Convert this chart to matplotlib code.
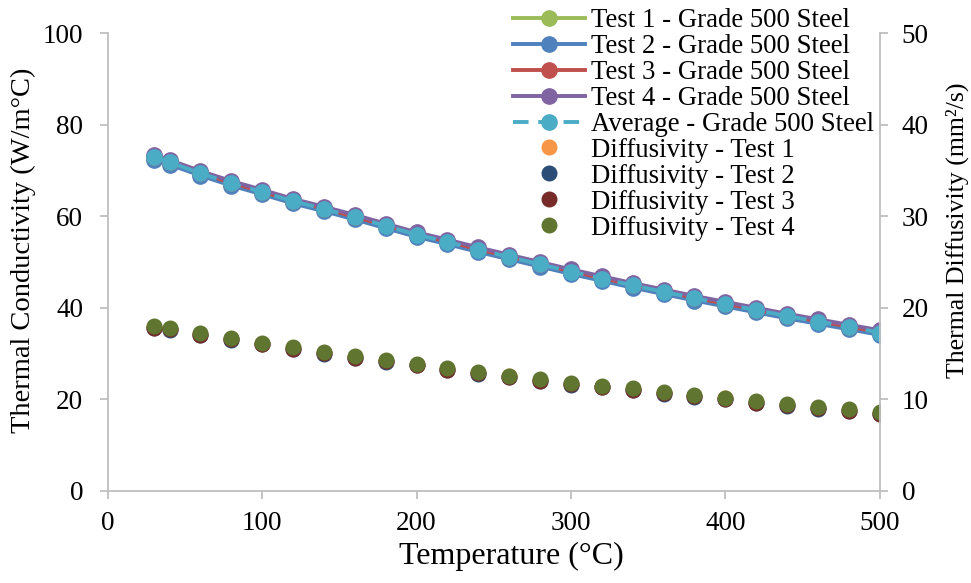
import matplotlib
matplotlib.use("Agg")
import matplotlib.pyplot as plt

plt.rcParams['font.family'] = ['Liberation Serif', 'DejaVu Serif']

# temperatures (°C)
temp = [30, 40, 60, 80, 100, 120, 140, 160, 180, 200, 220, 240, 260, 280,
        300, 320, 340, 360, 380, 400, 420, 440, 460, 480, 500]

# thermal conductivity (W/m°C)
avg_k = [72.9, 71.8, 69.4, 67.2, 65.3, 63.3, 61.6, 59.8, 57.9, 56.0, 54.4,
         52.7, 51.1, 49.5, 47.9, 46.4, 44.9, 43.5, 42.1, 40.8, 39.5, 38.2,
         37.0, 35.8, 34.6]
test1_k = [72.8, 71.7, 69.3, 67.1, 65.2, 63.2, 61.5, 59.7, 57.8, 55.9, 54.3,
           52.6, 51.0, 49.4, 47.8, 46.3, 44.8, 43.4, 42.0, 40.7, 39.4, 38.1,
           36.9, 35.7, 34.5]
test2_k = [72.4, 71.3, 68.9, 66.7, 64.8, 62.8, 61.1, 59.3, 57.4, 55.5, 53.9,
           52.2, 50.6, 49.0, 47.4, 45.9, 44.4, 43.0, 41.6, 40.3, 39.0, 37.7,
           36.5, 35.3, 34.1]
test3_k = [73.0, 71.9, 69.5, 67.3, 65.4, 63.4, 61.7, 59.9, 58.0, 56.1, 54.5,
           52.8, 51.2, 49.6, 48.0, 46.5, 45.0, 43.6, 42.2, 40.9, 39.6, 38.3,
           37.1, 35.9, 34.7]
test4_k = [73.4, 72.3, 69.9, 67.7, 65.8, 63.8, 62.1, 60.3, 58.4, 56.5, 54.9,
           53.2, 51.6, 50.0, 48.4, 46.9, 45.4, 44.0, 42.6, 41.3, 40.0, 38.7,
           37.5, 36.3, 35.1]

# thermal diffusivity (mm²/s)
diff4 = [18.0, 17.8, 17.2, 16.7, 16.2, 15.7, 15.2, 14.7, 14.3, 13.9, 13.4,
         13.0, 12.6, 12.2, 11.8, 11.5, 11.2, 10.8, 10.5, 10.2, 9.8, 9.5,
         9.2, 8.9, 8.6]
diff1 = [17.9, 17.7, 17.1, 16.6, 16.1, 15.6, 15.1, 14.6, 14.2, 13.8, 13.3,
         12.9, 12.5, 12.1, 11.7, 11.4, 11.1, 10.7, 10.4, 10.1, 9.7, 9.4,
         9.1, 8.8, 8.5]
diff2 = [17.8, 17.6, 17.0, 16.5, 16.0, 15.5, 15.0, 14.5, 14.1, 13.7, 13.2,
         12.8, 12.4, 12.0, 11.6, 11.3, 11.0, 10.6, 10.3, 10.0, 9.6, 9.3,
         9.0, 8.7, 8.4]
diff3 = [17.85, 17.65, 17.05, 16.55, 16.05, 15.55, 15.05, 14.55, 14.15, 13.75,
         13.25, 12.85, 12.45, 12.05, 11.65, 11.35, 11.05, 10.65, 10.35, 10.05,
         9.65, 9.35, 9.05, 8.75, 8.45]

fig = plt.figure(figsize=(9.71, 5.83), dpi=100)
ax = fig.add_axes([0.111, 0.158, 0.795, 0.785])
ax2 = ax.twinx()

grey = '#bfbfbf'
lw = 2.8
ms = 11

h1, = ax.plot(temp, test1_k, '-o', color='#9BBB59', lw=lw, ms=ms, label='Test 1 - Grade 500 Steel')
h2, = ax.plot(temp, test2_k, '-o', color='#4F81BD', lw=lw, ms=ms, label='Test 2 - Grade 500 Steel')
h3, = ax.plot(temp, test3_k, '-o', color='#C0504D', lw=lw, ms=ms, label='Test 3 - Grade 500 Steel')
h4, = ax.plot(temp, test4_k, '-o', color='#8064A2', lw=lw, ms=ms, label='Test 4 - Grade 500 Steel')
h5, = ax.plot(temp, avg_k, '--o', color='#4BACC6', lw=lw, ms=ms, dashes=(4, 2.5),
              label='Average - Grade 500 Steel')

d1, = ax2.plot(temp, diff1, 'o', color='#F79646', ms=10.5, label='Diffusivity - Test 1')
d2, = ax2.plot(temp, diff2, 'o', color='#2C4D75', ms=10.5, label='Diffusivity - Test 2')
d3, = ax2.plot(temp, diff3, 'o', color='#772C2A', ms=10.5, label='Diffusivity - Test 3')
d4, = ax2.plot(temp, diff4, 'o', color='#5F7530', ms=10.5, label='Diffusivity - Test 4')

ax.set_xlim(0, 500)
ax.set_ylim(0, 100)
ax2.set_ylim(0, 50)
ax.set_xticks(range(0, 501, 100))
ax.set_yticks(range(0, 101, 20))
ax2.set_yticks(range(0, 51, 10))

for a in (ax, ax2):
    a.spines['top'].set_visible(False)
    for s in ('left', 'right', 'bottom'):
        a.spines[s].set_color(grey)
        a.spines[s].set_linewidth(1.3)
    a.tick_params(direction='out', length=5.8, width=1.3, color=grey,
                  labelsize=19.5)
ax.tick_params(axis='y', pad=12)
ax.tick_params(axis='x', pad=9)
ax2.tick_params(axis='y', pad=10)
ax.spines['right'].set_visible(False)
ax2.spines['left'].set_visible(False)
ax2.spines['bottom'].set_visible(False)

ax.set_xlabel('Temperature (°C)', fontsize=23)
ax.set_ylabel('Thermal Conductivity (W/m°C)', fontsize=20.5)
ax2.set_ylabel('Thermal Diffusivity (mm²/s)', fontsize=18.6)
ax.xaxis.set_label_coords(0.523, -0.144)
ax.xaxis.label.set_va('center')
ax.yaxis.set_label_coords(-0.109, 0.526)
ax.yaxis.label.set_va('center')
ax2.yaxis.set_label_coords(1.101, 0.57)
ax2.yaxis.label.set_va('center')

fig.legend(handles=[h1, h2, h3, h4, h5, d1, d2, d3, d4],
           loc='upper left', bbox_to_anchor=(0.528, 0.986), frameon=False,
           fontsize=19.3, borderpad=0, borderaxespad=0, labelspacing=0.035,
           handlelength=2.7, handletextpad=0.22)

fig.savefig('out.png', dpi=100)
